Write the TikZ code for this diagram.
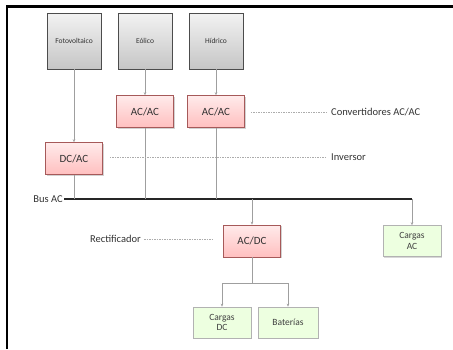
\documentclass[tikz,border=0pt]{standalone}
\usepackage{fontspec}
\setmainfont{Carlito}
\usetikzlibrary{shadows,arrows.meta}

\tikzset{
    source/.style={
        draw=gray!60!black,
        line width=0.8pt,
        top color=gray!10,
        bottom color=gray!45,
        drop shadow={shadow xshift=1pt,shadow yshift=-1pt,fill=gray!70},
        minimum width=54pt,
        minimum height=56pt,
        inner sep=1pt,
        font=\fontsize{7.5}{9}\selectfont\color{gray!40!black}
    },
    conv/.style={
        draw=red!30!gray,
        line width=0.6pt,
        top color=red!8,
        bottom color=red!25,
        drop shadow={shadow xshift=1pt,shadow yshift=-1pt,fill=gray!70},
        minimum width=57pt,
        minimum height=32pt,
        inner sep=1pt,
        font=\fontsize{11}{12}\selectfont\color{black!80}
    },
    load/.style={
        draw=gray!60,
        line width=0.6pt,
        fill=green!60!yellow!12,
        drop shadow={shadow xshift=1pt,shadow yshift=-1pt,fill=gray!60},
        minimum width=58pt,
        minimum height=31pt,
        inner sep=1pt,
        align=center,
        font=\fontsize{9.5}{10.5}\selectfont\color{black!75}
    },
    wire/.style={draw=gray!75,line width=0.6pt},
    feed/.style={wire,-{Stealth[length=3pt,width=2.5pt]}},
    dashline/.style={draw=gray!65,line width=0.6pt,dash pattern=on 1.5pt off 1pt},
    note/.style={font=\fontsize{10.5}{12}\selectfont\color{gray!40!black},inner sep=1pt}
}

\begin{document}
\begin{tikzpicture}[x=1pt,y=-1pt]
    \useasboundingbox (0,0) rectangle (453,349);

    % Frame (top and left only).
    \draw[line width=2.5pt] (7,349) -- (7,6.5) -- (453,6.5);

    % Sources.
    \node[source] (fv) at (74,41) {Fotovoltaico};
    \node[source] (eol) at (145,41) {Eólico};
    \node[source] (hid) at (216,41) {Hídrico};

    % Converters.
    \node[conv] (acacA) at (145,111.5) {AC/AC};
    \node[conv] (acacB) at (216,111.5) {AC/AC};
    \node[conv] (dcac) at (74,158.5) {DC/AC};
    \node[conv] (acdc) at (252,241) {AC/DC};

    % Loads and storage.
    \node[load] (cargasac) at (412,241) {Cargas\\AC};
    \node[load] (cargasdc) at (222,322.5) {Cargas\\DC};
    \node[load,minimum width=60pt] (bat) at (288,322.5) {Baterías};

    % Bus AC.
    \coordinate (busL) at (64,199);
    \coordinate (busR) at (412,199);
    \coordinate (branch) at (252,283);
    \draw[line width=1.6pt,black!85] (busL) -- (busR);
    \node[note,anchor=east] (buslbl) at (busL) {Bus AC};

    % Connections.
    \draw[feed] (fv) -- (dcac);
    \draw[feed] (eol) -- (acacA);
    \draw[feed] (hid) -- (acacB);
    \draw[wire] (dcac) -- (dcac |- busL);
    \draw[wire] (acacA) -- (acacA |- busL);
    \draw[wire] (acacB) -- (acacB |- busL);
    \draw[feed] (acdc |- busL) -- (acdc);
    \draw[feed] (busR) -- (cargasac);
    \draw[wire] (acdc) -- (branch);
    \draw[feed] (branch) -| (cargasdc);
    \draw[feed] (branch) -| (bat);

    % Notes.
    \node[note,anchor=west] (convlbl) at (330,112) {Convertidores AC/AC};
    \node[note,anchor=west] (invlbl) at (330,157) {Inversor};
    \node[note,anchor=east] (reclbl) at (142,239) {Rectificador};
    \draw[dashline,shorten <=6pt,shorten >=4pt] (acacB.east |- convlbl) -- (convlbl);
    \draw[dashline,shorten <=7pt,shorten >=4pt] (dcac.east |- invlbl) -- (invlbl);
    \draw[dashline,shorten <=2pt,shorten >=10pt] (reclbl) -- (acdc.west |- reclbl);

\end{tikzpicture}
\end{document}
